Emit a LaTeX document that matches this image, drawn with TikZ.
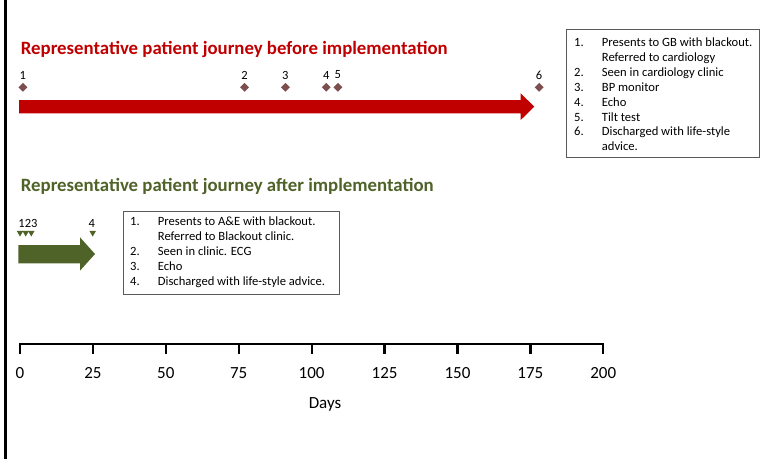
\documentclass[tikz,border=0pt]{standalone}
\usepackage{fontspec}
\setmainfont{Carlito}
\usetikzlibrary{shapes.geometric}
\definecolor{bred}{RGB}{192,0,0}
\definecolor{bgreen}{RGB}{79,98,40}
\definecolor{dmd}{RGB}{124,78,78}
\definecolor{boxgray}{RGB}{90,90,90}
\tikzset{
  title/.style={anchor=base west, inner sep=0, font=\fontsize{18.8}{21}\selectfont\bfseries},
  evnum/.style={inner sep=0, font=\fontsize{12.5}{14}\selectfont},
  diam/.style={diamond, fill=dmd, inner sep=0, minimum width=9pt, minimum height=9pt},
  tri/.style={regular polygon, regular polygon sides=3, shape border rotate=180, fill=bgreen, inner sep=0, minimum size=7.5pt},
  legend/.style={draw=boxgray, line width=0.8pt, inner sep=0, anchor=north west},
  list/.style={anchor=north west, inner sep=0, font=\fontsize{12.6}{14.9}\selectfont},
  tick/.style={line width=2.3pt},
  ticklab/.style={inner sep=0, font=\fontsize{17}{19}\selectfont},
}
\begin{document}
\begin{tikzpicture}[x=1pt,y=-1pt]
\useasboundingbox (0,0) rectangle (764,459);
% left vertical line
\draw[line width=3pt] (5,0) -- (5,459);

% ---------- before ----------
\node[title, text=bred] (t1) at (20.7,54) {Representative patient journey before implementation};
\fill[bred] (19,100) -- (520.7,100) -- (520.7,93.3) -- (534.3,106.7) -- (520.7,120) -- (520.7,113.3) -- (19,113.3) -- cycle;
\foreach \d/\l [count=\i] in {1/1,77/2,91/3,105/4,109/5,178/6}{
  \node[diam] (bd\i) at ({20+\d*2.9165},87.3) {};
  \node[evnum] (bn\i) at ({20+\d*2.9165},75) {\l};
}
\node[legend, minimum width=193.3pt, minimum height=127.4pt] (box1) at (566,29.3) {};
\node[list] (list1) at (574,35.9) {%
\begin{tabular}{@{}p{27.7pt}@{}l@{}}
1. & Presents to GB with blackout.\\
   & Referred to cardiology\\
2. & Seen in cardiology clinic\\
3. & BP monitor\\
4. & Echo\\
5. & Tilt test\\
6. & Discharged with life-style\\
   & advice.
\end{tabular}};

% ---------- after ----------
\node[title, text=bgreen] (t2) at (20.7,191) {Representative patient journey after implementation};
\fill[bgreen] (18.3,245) -- (80,245) -- (80,237.3) -- (95,254) -- (80,270.7) -- (80,263.3) -- (18.3,263.3) -- cycle;
\node[tri] (gt1) at (20,232.8) {};
\node[tri] (gt2) at (25.7,232.8) {};
\node[tri] (gt3) at (31.3,232.8) {};
\node[tri] (gt4) at (92.7,232.8) {};
\node[evnum] (gn1) at (28,223.5) {123};
\node[evnum] (gn4) at (91.7,223.5) {4};
\node[legend, minimum width=216.6pt, minimum height=83.6pt] (box2) at (122.7,210.7) {};
\node[list] (list2) at (130,215.3) {%
\begin{tabular}{@{}p{27.7pt}@{}l@{}}
1. & Presents to A\&E with blackout.\\
   & Referred to Blackout clinic.\\
2. & Seen in clinic. ECG\\
3. & Echo\\
4. & Discharged with life-style advice.
\end{tabular}};

% ---------- axis ----------
\coordinate (ax0) at (20,344);
\coordinate (ax1) at (603.3,344);
\draw[line width=1.7pt] (ax0) -- (ax1);
\foreach \d [count=\i] in {0,25,...,200}{
  \draw[tick] ({20+\d*2.9165},343.2) -- ({20+\d*2.9165},354);
  \node[ticklab] (lab\i) at ({20+\d*2.9165},373.3) {\d};
}
\node[ticklab] (days) at (325,404) {Days};
\end{tikzpicture}
\end{document}
